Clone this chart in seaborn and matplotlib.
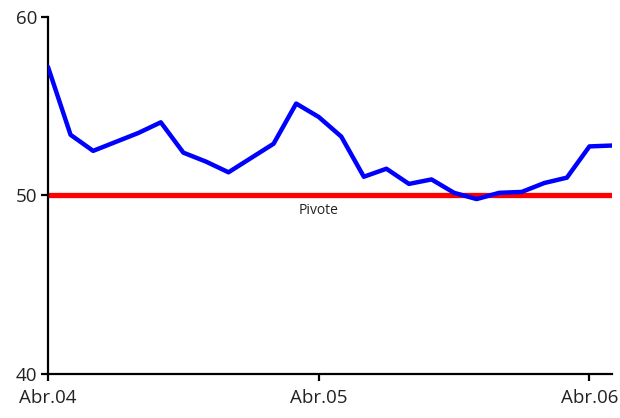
import pandas as pd
import matplotlib
matplotlib.use("Agg")
import matplotlib.pyplot as plt
import seaborn as sns

# --- Data (monthly, Abr.04 to May.06) ---
months = list(range(26))
values = [57.2, 53.4, 52.5, 53.0, 53.5, 54.1, 52.4, 51.9, 51.3, 52.1,
          52.9, 55.15, 54.4, 53.3, 51.05, 51.5, 50.65, 50.9, 50.15, 49.8,
          50.15, 50.2, 50.7, 51.0, 52.75, 52.8]
pivot = 50
tick_pos = [0, 12, 24]
tick_labels = ["Abr.04", "Abr.05", "Abr.06"]

df = pd.DataFrame({"mes": months, "valor": values})

sns.set_style("white")
plt.rcParams['font.family'] = ['Open Sans', 'DejaVu Sans']

fig = plt.figure(figsize=(6.2, 4.18), dpi=100)
ax = fig.add_axes([48 / 620, 1 - 374 / 418, (612 - 48) / 620, (374 - 17) / 418])

ax.axhline(pivot, color='#ff0000', lw=3.8, zorder=2)
sns.lineplot(data=df, x='mes', y='valor', color='#0000ff', lw=3.2, ax=ax, zorder=3)
ax.text(12, pivot - 0.85, "Pivote", ha='center', va='center', fontsize=10, color='#222222')

ax.set_xlim(0, 25)
ax.set_ylim(40, 60)
ax.set_yticks([40, 50, 60])
ax.set_xticks(tick_pos)
ax.set_xticklabels(tick_labels)
ax.set_xlabel('')
ax.set_ylabel('')

sns.despine(ax=ax)
for s in ['left', 'bottom']:
    ax.spines[s].set_color('black')
    ax.spines[s].set_linewidth(1.6)
ax.tick_params(axis='both', direction='out', length=5, width=1.6, color='black',
               labelsize=13.5, labelcolor='#222222', pad=6)
ax.tick_params(axis='y', pad=3)
ax.yaxis.set_ticks_position('left')
ax.xaxis.set_ticks_position('bottom')

fig.savefig("out.png", dpi=100)
